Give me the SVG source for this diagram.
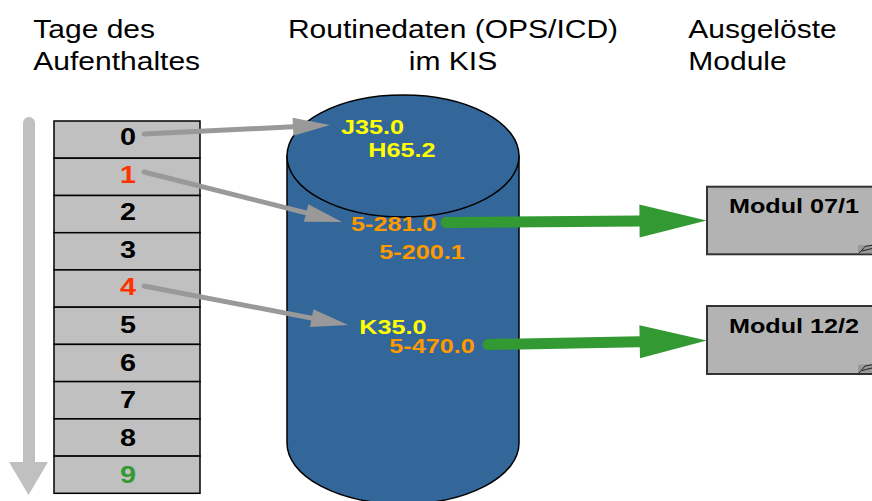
<svg xmlns="http://www.w3.org/2000/svg" width="872" height="501" viewBox="0 0 872 501">
<style>
text{font-family:"Liberation Sans",Arial,sans-serif}
.hdr{font-size:25px;fill:#000}
.day{font-size:24px;font-weight:bold;fill:#000;text-anchor:middle}
.code{font-size:21px;font-weight:bold}
.y{fill:#ffff00}
.o{fill:#ff9900}
.mod{font-size:21px;font-weight:bold;fill:#000;text-anchor:middle}
.cell{fill:#c0c0c0;stroke:#000;stroke-width:1.5}
.gline{stroke:#999;stroke-width:5;stroke-linecap:round;fill:none}
.grn{stroke:#339933;stroke-width:11;stroke-linecap:round;fill:none}
.box{fill:#b3b3b3;stroke:#333;stroke-width:2}
</style>
<defs>
<marker id="ghead" markerUnits="userSpaceOnUse" markerWidth="40" markerHeight="20" refX="0" refY="9" orient="auto" overflow="visible">
<path d="M0,0 L37,9 L0,18 Z" fill="#999"/>
</marker>
<marker id="grhead" markerUnits="userSpaceOnUse" markerWidth="70" markerHeight="34" refX="0" refY="16.5" orient="auto" overflow="visible">
<path d="M0,0 L67,16.5 L0,33 Z" fill="#339933"/>
</marker>
</defs>

<g id="headers">
<text class="hdr" transform="translate(33.3 37.7) scale(1.2 1)">Tage des</text>
<text class="hdr" transform="translate(33.3 70) scale(1.2 1)">Aufenthaltes</text>
<text class="hdr" text-anchor="middle" transform="translate(453 37.7) scale(1.2 1)">Routinedaten (OPS/ICD)</text>
<text class="hdr" text-anchor="middle" transform="translate(453 70) scale(1.2 1)">im KIS</text>
<text class="hdr" transform="translate(688.3 37.7) scale(1.2 1)">Ausgelöste</text>
<text class="hdr" transform="translate(688.3 70) scale(1.2 1)">Module</text>
</g>

<g id="time-arrow">
<line x1="29" y1="123" x2="29" y2="463" stroke="#c0c0c0" stroke-width="12" stroke-linecap="round"/>
<polygon points="9,462 48,462 28.5,495" fill="#c0c0c0"/>
</g>

<g id="days">
<rect class="cell" x="54" y="121" width="146" height="37.2"/>
<rect class="cell" x="54" y="158.2" width="146" height="37.3"/>
<rect class="cell" x="54" y="195.5" width="146" height="37.2"/>
<rect class="cell" x="54" y="232.7" width="146" height="37.2"/>
<rect class="cell" x="54" y="269.9" width="146" height="37.3"/>
<rect class="cell" x="54" y="307.2" width="146" height="37.2"/>
<rect class="cell" x="54" y="344.4" width="146" height="37.2"/>
<rect class="cell" x="54" y="381.6" width="146" height="37.3"/>
<rect class="cell" x="54" y="418.9" width="146" height="37.2"/>
<rect class="cell" x="54" y="456.1" width="146" height="37.2"/>
<text class="day" transform="translate(128 145) scale(1.2 1)">0</text>
<text class="day" transform="translate(128 182.6) scale(1.2 1)" fill="#ff3300" style="fill:#ff3300">1</text>
<text class="day" transform="translate(128 220.2) scale(1.2 1)">2</text>
<text class="day" transform="translate(128 257.8) scale(1.2 1)">3</text>
<text class="day" transform="translate(128 295.4) scale(1.2 1)" style="fill:#ff3300">4</text>
<text class="day" transform="translate(128 333) scale(1.2 1)">5</text>
<text class="day" transform="translate(128 370.6) scale(1.2 1)">6</text>
<text class="day" transform="translate(128 408.2) scale(1.2 1)">7</text>
<text class="day" transform="translate(128 445.8) scale(1.2 1)">8</text>
<text class="day" transform="translate(128 483.4) scale(1.2 1)" style="fill:#339933">9</text>
</g>

<g id="kis-db">
<path d="M287,156 L287,443 A116,61 0 0 0 519,443 L519,156 Z" fill="#336699" stroke="#000" stroke-width="1.5"/>
<ellipse cx="403" cy="156" rx="116" ry="61" fill="#336699" stroke="#000" stroke-width="1.5"/>
<text class="code y" transform="translate(341 134.3) scale(1.2 1)">J35.0</text>
<text class="code y" transform="translate(368.3 156.7) scale(1.2 1)">H65.2</text>
<text class="code o" transform="translate(351 231) scale(1.2 1)">5-281.0</text>
<text class="code o" transform="translate(379.3 259) scale(1.2 1)">5-200.1</text>
<text class="code y" transform="translate(359.3 334) scale(1.2 1)">K35.0</text>
<text class="code o" transform="translate(389.3 353.3) scale(1.2 1)">5-470.0</text>
</g>

<g id="modul-07-1">
<rect class="box" x="707" y="186.7" width="180" height="67.6"/>
<rect x="858" y="245" width="14" height="8.3" fill="#999"/>
<path d="M859,253.5 L865,246.5 L872,245.2 M862,251 L872,248.5" stroke="#222" stroke-width="1" fill="none"/>
<text class="mod" transform="translate(794 213.3) scale(1.2 1)">Modul 07/1</text>
</g>

<g id="modul-12-2">
<rect class="box" x="707" y="306" width="180" height="68"/>
<rect x="858" y="364.5" width="14" height="8.5" fill="#999"/>
<path d="M859,373 L865,366 L872,364.7 M862,370.5 L872,368" stroke="#222" stroke-width="1" fill="none"/>
<text class="mod" transform="translate(794 332.7) scale(1.2 1)">Modul 12/2</text>
</g>

<g id="connectors">
<line class="gline" x1="144" y1="134" x2="293" y2="126.8" marker-end="url(#ghead)"/>
<line class="gline" x1="144" y1="172" x2="306.1" y2="212.9" marker-end="url(#ghead)"/>
<line class="gline" x1="144" y1="286" x2="311.7" y2="318.1" marker-end="url(#ghead)"/>
<line class="grn" x1="446" y1="222.5" x2="639.5" y2="221" marker-end="url(#grhead)"/>
<line class="grn" x1="488" y1="344.5" x2="639.7" y2="341.8" marker-end="url(#grhead)"/>
</g>
</svg>
